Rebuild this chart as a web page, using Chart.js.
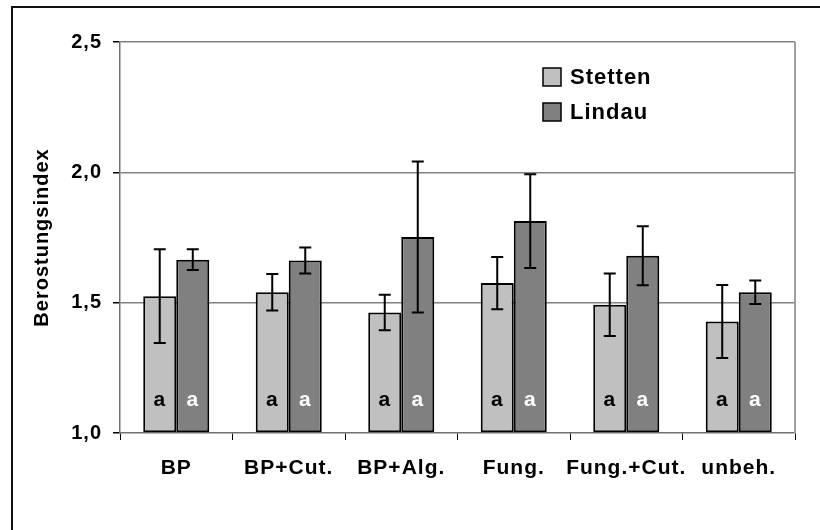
<!DOCTYPE html>
<html>
<head>
<meta charset="utf-8">
<script src="https://cdn.jsdelivr.net/npm/chart.js@4/dist/chart.umd.min.js"></script>
<style>
  html, body { margin: 0; padding: 0; background: #fff; }
  canvas { display: block; }
</style>
</head>
<body>
<canvas id="chart" width="820" height="530"></canvas>
<script>
// daten
const categories = ['BP', 'BP+Cut.', 'BP+Alg.', 'Fung.', 'Fung.+Cut.', 'unbeh.'];
const stetten = [1.525, 1.54, 1.462, 1.575, 1.492, 1.428];
const lindau = [1.665, 1.662, 1.752, 1.813, 1.68, 1.54];
const stettenErr = [0.18, 0.07, 0.068, 0.10, 0.12, 0.14];
const lindauErr = [0.04, 0.05, 0.29, 0.18, 0.113, 0.045];
const stettenLetters = ['a', 'a', 'a', 'a', 'a', 'a'];
const lindauLetters = ['a', 'a', 'a', 'a', 'a', 'a'];
const yTicks = [1.0, 1.5, 2.0, 2.5];

const FONT = '"Liberation Sans", Arial, sans-serif';

// rahmen + hintergrund, etwas sperrschrift wie im original
const framePlugin = {
  id: 'frame',
  beforeLayout(chart) {
    chart.ctx.letterSpacing = '1px';
  },
  beforeDraw(chart) {
    const ctx = chart.ctx;
    ctx.letterSpacing = '1px';
    ctx.save();
    ctx.fillStyle = '#fff';
    ctx.fillRect(0, 0, chart.width, chart.height);
    ctx.strokeStyle = '#111';
    ctx.lineWidth = 2;
    ctx.strokeRect(12, 7, chart.width + 20, chart.height + 20);
    ctx.restore();
  },
  afterDraw(chart) {
    const a = chart.chartArea;
    const ctx = chart.ctx;
    ctx.save();
    ctx.strokeStyle = '#a0a0a0';
    ctx.lineWidth = 2;
    ctx.beginPath();
    ctx.moveTo(a.right, a.top);
    ctx.lineTo(a.right, a.bottom);
    ctx.stroke();
    ctx.restore();
  }
};

// fehlerbalken und buchstaben
const errorPlugin = {
  id: 'errors',
  afterDatasetsDraw(chart) {
    const ctx = chart.ctx;
    const y = chart.scales.y;
    const errs = [stettenErr, lindauErr];
    const letters = [stettenLetters, lindauLetters];
    const letterColors = ['#000', '#fff'];
    ctx.save();
    chart.data.datasets.forEach((ds, i) => {
      const meta = chart.getDatasetMeta(i);
      meta.data.forEach((bar, j) => {
        const v = ds.data[j];
        const e = errs[i][j];
        const top = y.getPixelForValue(v + e);
        const bot = y.getPixelForValue(v - e);
        ctx.strokeStyle = '#000';
        ctx.lineWidth = 2;
        ctx.beginPath();
        ctx.moveTo(bar.x, top);
        ctx.lineTo(bar.x, bot);
        ctx.moveTo(bar.x - 6, top);
        ctx.lineTo(bar.x + 6, top);
        ctx.moveTo(bar.x - 6, bot);
        ctx.lineTo(bar.x + 6, bot);
        ctx.stroke();

        ctx.fillStyle = letterColors[i];
        ctx.font = 'bold 21px ' + FONT;
        ctx.textAlign = 'center';
        ctx.textBaseline = 'middle';
        ctx.fillText(letters[i][j], bar.x, y.getPixelForValue(1) - 33);
      });
    });
    ctx.restore();
  }
};

// legende im diagramm
const legendPlugin = {
  id: 'innerLegend',
  afterDraw(chart) {
    const ctx = chart.ctx;
    ctx.save();
    chart.data.datasets.forEach((ds, i) => {
      const bx = 543, by = 68 + i * 35;
      ctx.fillStyle = ds.backgroundColor;
      ctx.fillRect(bx, by, 18, 18);
      ctx.strokeStyle = '#000';
      ctx.lineWidth = 1.5;
      ctx.strokeRect(bx, by, 18, 18);
      ctx.fillStyle = '#000';
      ctx.font = 'bold 22px ' + FONT;
      ctx.textAlign = 'left';
      ctx.textBaseline = 'alphabetic';
      ctx.fillText(ds.label, 570, by + 16);
    });
    ctx.restore();
  }
};

new Chart(document.getElementById('chart').getContext('2d'), {
  type: 'bar',
  data: {
    labels: categories,
    datasets: [
      {
        label: 'Stetten',
        data: stetten,
        backgroundColor: '#c0c0c0',
        borderColor: '#000',
        borderWidth: 2,
        borderSkipped: false,
        base: 1
      },
      {
        label: 'Lindau',
        data: lindau,
        backgroundColor: '#808080',
        borderColor: '#000',
        borderWidth: 2,
        borderSkipped: false,
        base: 1
      }
    ]
  },
  options: {
    responsive: false,
    animation: false,
    devicePixelRatio: 1,
    categoryPercentage: 0.587,
    barPercentage: 1,
    layout: { padding: { top: 42, right: 25, left: 0, bottom: 0 } },
    plugins: {
      legend: { display: false },
      tooltip: { enabled: false }
    },
    scales: {
      x: {
        afterFit: (s) => { s.height = 97; },
        grid: {
          offset: true,
          drawOnChartArea: false,
          drawTicks: true,
          tickLength: 7,
          tickColor: '#000'
        },
        border: { color: '#707070', width: 1.5 },
        ticks: {
          color: '#000',
          padding: 16,
          maxRotation: 0,
          minRotation: 0,
          autoSkip: false,
          font: { family: FONT, size: 21, weight: 'bold' }
        }
      },
      y: {
        min: 1,
        max: 2.5,
        afterFit: (s) => { s.width = 120; },
        afterBuildTicks: (s) => { s.ticks = yTicks.map(v => ({ value: v })); },
        grid: {
          color: (c) => (c.tick && c.tick.value === 1 ? 'rgba(0,0,0,0)' : '#808080'),
          lineWidth: 1.5,
          tickLength: 7,
          tickColor: '#000'
        },
        border: { color: '#707070', width: 1.5 },
        ticks: {
          color: '#000',
          padding: 11,
          font: { family: FONT, size: 20, weight: 'bold' },
          callback: (v) => Number(v).toFixed(1).replace('.', ',')
        },
        title: {
          display: true,
          text: 'Berostungsindex',
          color: '#000',
          padding: { top: 30, bottom: 0 },
          font: { family: FONT, size: 20, weight: 'bold' }
        }
      }
    }
  },
  plugins: [framePlugin, errorPlugin, legendPlugin]
});
</script>
</body>
</html>
